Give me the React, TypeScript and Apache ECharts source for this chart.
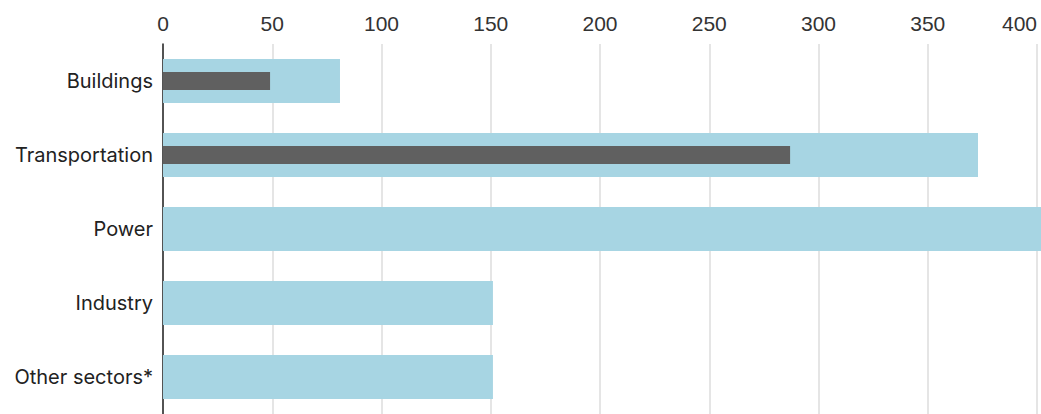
import React, { useEffect, useRef } from "react";
import * as echarts from "echarts";

// Sector categories, top to bottom
const categories = ["Buildings", "Transportation", "Power", "Industry", "Other sectors*"];
// Wider light-blue bars
const totalValues = [81, 373, 410, 151, 151];
// Narrow dark bars overlaid on the first two sectors
const partValues = [49, 287, null, null, null];
// Axis ticks along the top
const tickMin = 0;
const tickMax = 400;
const tickStep = 50;

const LIGHT = "#a7d5e3";
const DARK = "#606060";
const TICK_FONT = "Liberation Sans, Arial, sans-serif";
const CAT_FONT = "Inter, Roboto, sans-serif";

export default function App() {
  const ref = useRef<HTMLDivElement>(null);

  useEffect(() => {
    document.body.style.margin = "0";
    const chart = echarts.init(ref.current!, null, { renderer: "svg" });
    chart.setOption({
      animation: false,
      backgroundColor: "#ffffff",
      grid: { left: 163, right: 4, top: 44, height: 370, containLabel: false },
      xAxis: {
        type: "value",
        position: "top",
        min: tickMin,
        max: tickMax,
        interval: tickStep,
        axisLine: { show: false },
        axisTick: { show: false },
        axisLabel: {
          color: "#333333",
          fontSize: 21,
          fontFamily: TICK_FONT,
          margin: 10,
          alignMaxLabel: "right",
        },
        splitLine: { show: true, lineStyle: { color: "#dcdcdc", width: 1.5 } },
      },
      yAxis: [
        {
          type: "category",
          data: categories,
          inverse: true,
          axisLine: { show: true, lineStyle: { color: "#222222", width: 1.5 } },
          axisTick: { show: false },
          axisLabel: { color: "#222222", fontSize: 20, fontFamily: CAT_FONT, margin: 10 },
          splitLine: { show: false },
        },
        {
          type: "category",
          data: categories,
          inverse: true,
          show: false,
        },
      ],
      series: [
        {
          type: "bar",
          yAxisIndex: 0,
          data: totalValues,
          barWidth: 44,
          clip: false,
          itemStyle: { color: LIGHT },
          z: 2,
        },
        {
          type: "bar",
          yAxisIndex: 1,
          data: partValues,
          barWidth: 18,
          itemStyle: { color: DARK },
          z: 3,
        },
      ],
    });
    return () => chart.dispose();
  }, []);

  return <div ref={ref} style={{ width: 1041, height: 414 }} />;
}
